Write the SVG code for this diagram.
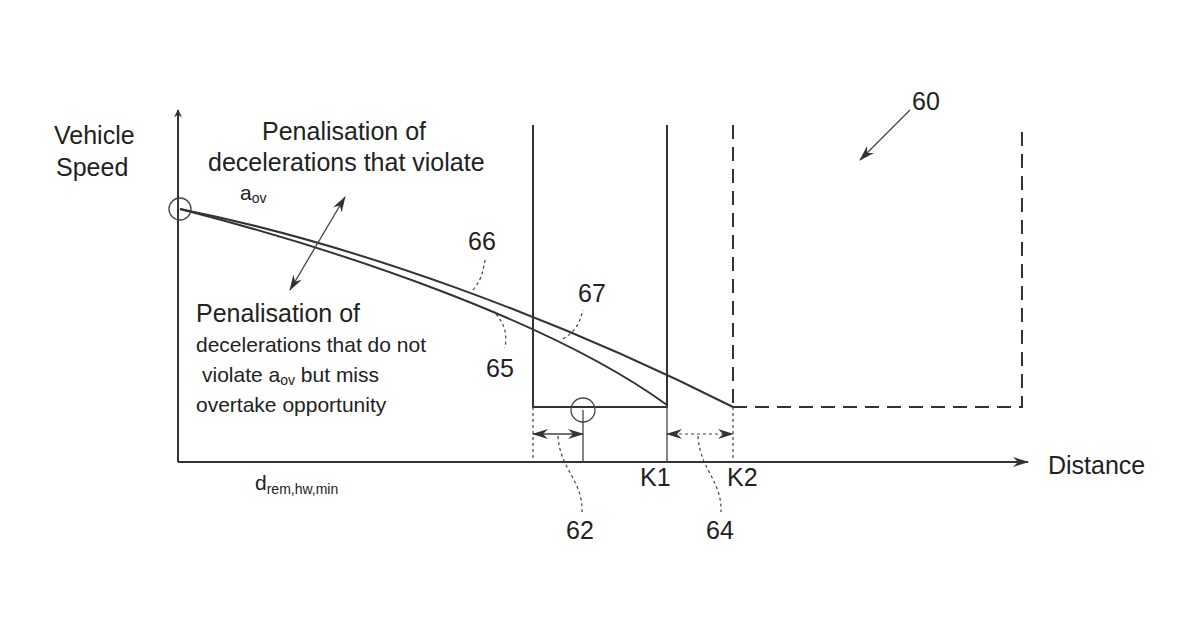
<svg xmlns="http://www.w3.org/2000/svg" width="1200" height="630" viewBox="0 0 1200 630">
<style>
text{font-family:"Liberation Sans",Arial,sans-serif;fill:#222;font-size:25px}
.s{font-size:21px}
.l{stroke:#333;fill:none;stroke-width:2}
.t{stroke:#444;fill:none;stroke-width:1.3}
.d{stroke:#444;fill:none;stroke-width:1.2;stroke-dasharray:3 3}
.dd{stroke:#333;fill:none;stroke-width:2;stroke-dasharray:14 8}
</style>
<defs>
<marker id="a" viewBox="0 0 10 10" refX="9" refY="5" markerWidth="10" markerHeight="8" orient="auto-start-reverse" markerUnits="userSpaceOnUse"><path d="M0,0 L10,5 L0,10 L3,5 Z" fill="#333"/></marker>
<marker id="b" viewBox="0 0 16 10" refX="15" refY="5" markerWidth="16" markerHeight="10" orient="auto-start-reverse" markerUnits="userSpaceOnUse"><path d="M0,0 L16,5 L0,10 L5,5 Z" fill="#333"/></marker>
</defs>
<g id="axes">
<path class="l" d="M178,462 V110" marker-end="url(#a)"/>
<path class="l" d="M178,462 H1028" marker-end="url(#b)"/>
</g>
<g id="boxes">
<path class="l" d="M533,125 V407 H667 V125"/>
<path class="dd" d="M733,407 H1022 V125"/>
<path class="dd" d="M733,125 V407"/>
<path class="t" d="M667,407 V462"/>
<path class="d" d="M533,407 V462"/>
<path class="d" d="M733,407 V462"/>
<path class="t" d="M583,410 V462"/>
<circle class="t" cx="583" cy="410" r="12"/>
<circle class="t" cx="180" cy="209" r="11"/>
</g>
<g id="connectors">
<path class="l" d="M180,209 C340,250 550,320 667,405"/>
<path class="l" d="M180,209 C360,245 560,320 733,407"/>
<path class="t" d="M345,197 L290,290" marker-start="url(#b)" marker-end="url(#b)"/>
<path class="t" d="M533,434 H583" marker-start="url(#b)" marker-end="url(#b)"/>
<path class="d" d="M667,434 H733" marker-start="url(#b)" marker-end="url(#b)"/>
<path class="d" d="M473,290 C485,275 482,268 486,258"/>
<path class="d" d="M496,314 C510,330 505,345 505,348"/>
<path class="d" d="M563,339 C578,330 580,320 583,310"/>
<path class="d" d="M558,436 C560,470 583,480 582,512"/>
<path class="d" d="M698,436 C700,470 722,480 721,512"/>
<path class="t" d="M910,110 L860,160" marker-end="url(#b)"/>
</g>
<g id="labels">
<text x="54" y="144">Vehicle</text>
<text x="56" y="176">Speed</text>
<text x="262" y="140">Penalisation of</text>
<text x="208" y="171">decelerations that violate</text>
<text x="240" y="200" class="s">a<tspan font-size="14" dy="3">ov</tspan></text>
<text x="196" y="322">Penalisation of</text>
<text x="196" y="352" class="s">decelerations that do not</text>
<text x="202" y="382" class="s">violate a<tspan font-size="14" dy="3">ov</tspan><tspan dy="-3"> but miss</tspan></text>
<text x="196" y="412" class="s">overtake opportunity</text>
<text x="468" y="250">66</text>
<text x="578" y="302">67</text>
<text x="486" y="377">65</text>
<text x="912" y="110">60</text>
<text x="1048" y="474">Distance</text>
<text x="640" y="486">K1</text>
<text x="727" y="486">K2</text>
<text x="566" y="539">62</text>
<text x="706" y="539">64</text>
<text x="255" y="490" class="s">d<tspan font-size="14" dy="4">rem,hw,min</tspan></text>
</g>
</svg>
